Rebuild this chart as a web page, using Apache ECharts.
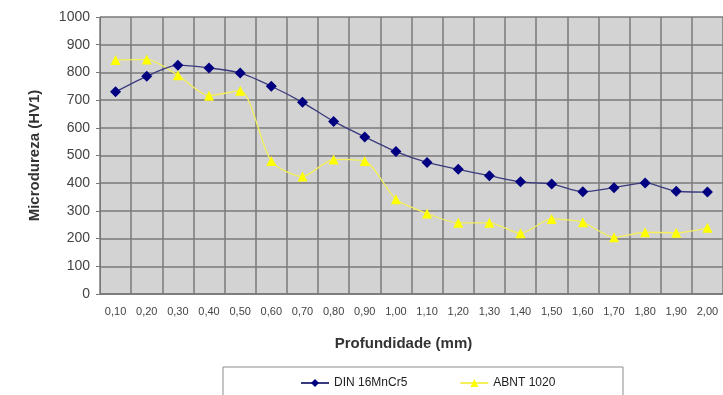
<!DOCTYPE html>
<html>
<head>
<meta charset="utf-8">
<script src="https://cdn.jsdelivr.net/npm/echarts@6/dist/echarts.min.js"></script>
<style>
  html, body { margin: 0; padding: 0; background: #ffffff; }
  #chart { width: 723px; height: 395px; }
</style>
</head>
<body>
<div id="chart"></div>
<script>
// Depth (mm) along the profile
const depths = ['0,10','0,20','0,30','0,40','0,50','0,60','0,70','0,80','0,90','1,00',
                '1,10','1,20','1,30','1,40','1,50','1,60','1,70','1,80','1,90','2,00'];
// Microhardness HV1 for each steel
const din16MnCr5 = [730, 786, 826, 816, 798, 750, 692, 623, 567, 514,
                    475, 450, 427, 405, 397, 369, 384, 401, 371, 368];
const abnt1020   = [845, 847, 790, 716, 734, 480, 424, 486, 480, 342,
                    291, 257, 257, 219, 271, 259, 205, 223, 221, 239];
const yTicks = { min: 0, max: 1000, interval: 100 };

const chart = echarts.init(document.getElementById('chart'), null, { renderer: 'canvas' });
const font = '"Liberation Sans", Arial, sans-serif';

chart.setOption({
  animation: false,
  textStyle: { fontFamily: font },
  grid: { left: 100, top: 17, width: 628, height: 277, containLabel: false,
          show: true, backgroundColor: '#d3d3d3', borderWidth: 0 },
  graphic: [{
    type: 'rect',
    shape: { x: 223, y: 367, width: 400, height: 40 },
    style: { fill: '#ffffff', stroke: '#8c8c8c', lineWidth: 1 },
    z: -1
  }],
  legend: {
    left: 295, top: 372,
    itemWidth: 28, itemHeight: 10, itemGap: 52,
    textStyle: { fontFamily: font, fontSize: 12, color: '#222' },
    data: ['DIN 16MnCr5', 'ABNT 1020']
  },
  xAxis: {
    type: 'category',
    data: depths,
    boundaryGap: true,
    name: 'Profundidade (mm)',
    nameLocation: 'middle',
    nameGap: 42,
    nameTextStyle: { fontFamily: font, fontSize: 15, fontWeight: 'bold', color: '#333',
                     padding: [0, 16, 0, 0] },
    axisLine: { lineStyle: { color: '#777', width: 1.5 } },
    axisTick: { show: false },
    axisLabel: { fontSize: 11, color: '#444', margin: 12, interval: 0 },
    splitLine: { show: true, interval: 0, lineStyle: { color: '#7a7a7a', width: 1.5 } }
  },
  yAxis: {
    type: 'value',
    min: yTicks.min, max: yTicks.max, interval: yTicks.interval,
    name: 'Microdureza (HV1)',
    nameLocation: 'middle',
    nameGap: 58,
    nameTextStyle: { fontFamily: font, fontSize: 15, fontWeight: 'bold', color: '#333' },
    axisLine: { show: true, lineStyle: { color: '#777', width: 1 } },
    axisTick: { show: true, length: 4, lineStyle: { color: '#777' } },
    axisLabel: { fontSize: 14, color: '#444', margin: 10, formatter: v => String(v) },
    splitLine: { show: true, lineStyle: { color: '#7a7a7a', width: 1.5 } }
  },
  series: [
    {
      name: 'DIN 16MnCr5',
      type: 'line',
      data: din16MnCr5,
      smooth: 0.25,
      symbol: 'diamond',
      symbolSize: 11,
      itemStyle: { color: '#000080' },
      lineStyle: { color: '#3a3a7e', width: 1.3 },
      z: 3
    },
    {
      name: 'ABNT 1020',
      type: 'line',
      data: abnt1020,
      smooth: 0.25,
      symbol: 'triangle',
      symbolSize: 10,
      itemStyle: { color: '#ffff00' },
      lineStyle: { color: '#f4ef5a', width: 1.3 },
      z: 2
    }
  ]
});
</script>
</body>
</html>
